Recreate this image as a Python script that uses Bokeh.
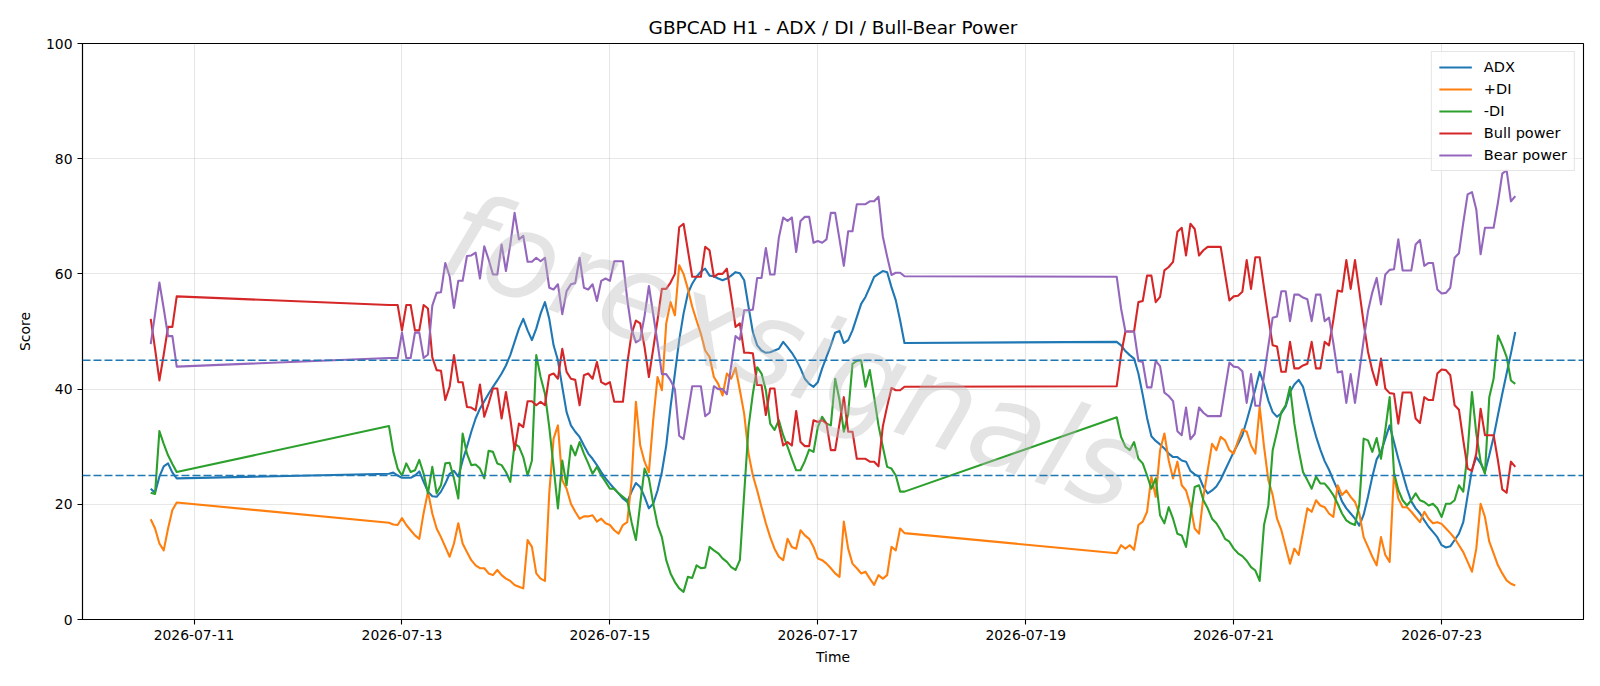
import pandas as pd
from bokeh.plotting import figure
from bokeh.models import Range1d, FixedTicker, DatetimeTickFormatter, Span, Label
from bokeh.embed import file_html
from bokeh.resources import INLINE

FONT = "DejaVu Sans"

# Hourly bars, three trading sessions (weekend gaps are bridged by the lines)
segment_starts = ["2026-07-10 14:00", "2026-07-12 21:00", "2026-07-19 21:00"]
segment_hours = [7, 120, 93]
times = []
for start, n in zip(segment_starts, segment_hours):
    times.extend(pd.date_range(start, periods=n, freq="h").to_pydatetime())

adx = [
    22.7, 22.0, 24.8, 26.6, 27.1, 25.5, 24.5,
    25.3, 25.5, 25.0, 24.6, 24.6, 24.6, 25.0, 25.7, 23.9, 22.2,
    21.4, 21.3, 22.2, 23.6, 25.3, 25.8, 24.8, 27.6, 30.0, 32.6,
    34.9, 36.6, 37.9, 39.2, 40.4, 41.5, 42.7, 44.1, 45.9, 48.2,
    50.5, 52.2, 50.2, 48.5, 50.5, 53.1, 55.1, 52.2, 47.6, 45.0,
    40.4, 36.0, 33.7, 32.6, 31.7, 30.2, 28.8, 27.9, 26.8, 25.6,
    24.5, 23.6, 22.7, 21.9, 21.0, 20.4, 22.2, 23.7, 23.0, 21.3,
    19.3, 20.1, 22.4, 25.6, 30.2, 36.9, 42.7, 48.5, 53.1, 56.6,
    58.3, 59.5, 60.4, 60.9, 59.7, 59.6, 59.2, 58.9, 59.2, 59.7,
    60.3, 60.1, 58.9, 54.3, 49.9, 47.6, 46.7, 46.3, 46.4, 46.7,
    47.0, 48.2, 47.3, 46.3, 45.1, 43.6, 41.8, 40.9, 40.4, 41.2,
    43.6, 45.6, 47.6, 49.8, 50.1, 48.0, 48.5, 50.2, 52.5, 54.8,
    56.0, 57.7, 59.5, 60.0, 60.5, 60.3, 57.7, 55.4, 51.9, 48.0,
    48.2, 47.6, 46.6, 45.9, 45.3, 42.7, 39.0, 35.0, 31.8, 31.0,
    30.4, 29.7, 28.8, 28.2, 28.2, 27.6, 27.4, 25.8, 25.2, 24.8,
    23.0, 21.9, 22.4, 23.1, 24.3, 25.9, 27.5, 29.1, 30.5, 32.0,
    34.5, 37.2, 40.0, 43.0, 40.8, 38.0, 36.0, 35.2, 35.8, 37.0,
    39.5, 40.8, 41.6, 40.4, 37.5, 34.5, 31.8, 29.5, 27.5, 26.0,
    24.2, 22.5, 20.5, 19.3, 18.4, 17.5, 16.3, 18.2, 21.3, 24.8,
    27.8, 29.1, 31.4, 33.7, 30.8, 27.9, 25.3, 22.7, 20.5, 19.3,
    18.4, 17.2, 16.1, 15.2, 14.3, 12.9, 12.5, 12.7, 13.8, 14.9,
    16.9, 21.5, 26.0, 28.2, 27.1, 25.6, 28.5, 31.7, 35.5, 39.2,
    42.7, 46.2, 49.9,
]

plus_di = [
    17.4, 15.8, 13.2, 12.0, 15.8, 19.0, 20.3,
    16.8, 16.5, 16.4, 17.6, 16.4, 15.5, 14.6, 14.0, 18.5, 22.2,
    18.4, 15.8, 14.3, 12.6, 10.9, 13.2, 16.7, 13.2, 11.7, 10.3,
    9.4, 8.9, 8.9, 8.0, 7.7, 8.6, 7.7, 7.1, 6.7, 6.0,
    5.7, 5.4, 13.8, 12.6, 8.0, 7.1, 6.7, 21.9, 31.4, 33.7,
    24.2, 22.7, 20.1, 18.7, 17.5, 17.9, 17.9, 18.1, 17.0, 17.5,
    16.7, 16.4, 15.5, 14.9, 16.4, 16.9, 24.0, 37.8, 30.2, 27.4,
    25.6, 34.6, 42.1, 39.8, 51.4, 55.1, 52.8, 61.5, 60.0, 57.4,
    54.3, 51.9, 49.6, 46.7, 45.6, 42.1, 40.9, 38.9, 42.7, 41.8,
    43.7, 39.8, 35.7, 28.8, 25.0, 22.4, 19.5, 16.7, 14.3, 12.3,
    10.9, 10.3, 14.0, 12.6, 12.3, 15.5, 14.6, 14.0, 12.6, 10.6,
    10.3, 9.7, 8.9, 8.0, 7.4, 17.0, 12.3, 9.7, 8.9, 8.0,
    8.3, 7.1, 6.0, 7.7, 7.1, 7.7, 12.6, 12.0, 15.8, 15.0,
    11.5, 12.9, 12.3, 12.9, 12.1, 16.4, 17.0, 18.7, 24.8, 21.3,
    29.4, 32.3, 27.6, 24.5, 27.4, 23.3, 22.4, 19.8, 15.8, 14.9,
    21.3, 25.9, 30.5, 29.4, 31.7, 31.1, 29.4, 28.8, 31.0, 33.0,
    32.6, 30.2, 28.8, 36.9, 30.0, 24.2, 21.6, 17.5, 15.5, 12.6,
    9.7, 12.3, 11.2, 15.2, 19.3, 18.7, 20.7, 19.8, 19.5, 18.4,
    17.8, 23.3, 21.6, 22.4, 21.3, 20.4, 18.4, 14.3, 12.6, 10.9,
    9.4, 14.3, 11.2, 10.0, 25.3, 21.0, 19.5, 19.5, 18.7, 17.8,
    16.9, 18.7, 17.5, 16.7, 16.9, 16.6, 15.8, 15.0, 14.1, 12.9,
    11.7, 10.0, 8.3, 12.3, 20.1, 17.8, 13.5, 11.5, 9.4, 8.0,
    6.8, 6.2, 5.9,
]

minus_di = [
    22.0, 21.8, 32.7, 30.5, 28.5, 27.0, 25.6,
    33.6, 29.1, 26.2, 25.0, 27.1, 25.6, 25.9, 27.7, 25.3, 21.9,
    26.5, 21.9, 23.3, 27.1, 27.2, 24.5, 21.0, 32.3, 28.8, 26.8,
    26.9, 26.2, 24.5, 29.3, 29.1, 27.1, 26.8, 25.6, 23.9, 30.5,
    30.0, 28.2, 25.0, 27.6, 45.9, 42.1, 39.2, 33.4, 26.5, 19.3,
    27.6, 23.3, 30.2, 28.5, 30.8, 28.8, 27.1, 25.3, 26.5, 25.0,
    23.9, 22.7, 22.7, 21.9, 21.3, 20.7, 16.9, 13.8, 20.1, 26.2,
    24.5, 20.1, 16.4, 14.3, 10.3, 8.0, 6.5, 5.4, 4.8, 7.4,
    7.2, 9.4, 8.9, 9.0, 12.6, 12.0, 11.5, 10.6, 10.0, 9.1,
    8.6, 10.3, 21.9, 33.4, 39.2, 43.8, 42.7, 39.8, 34.0, 32.9,
    34.6, 32.0, 30.0, 27.9, 25.9, 25.9, 27.5, 29.5, 29.1, 33.4,
    35.2, 34.0, 33.7, 41.8, 38.1, 32.6, 35.7, 44.4, 44.9, 45.0,
    40.4, 43.3, 38.6, 33.7, 30.0, 26.5, 26.2, 25.0, 22.2, 22.2,
    35.1, 31.7, 30.0, 29.4, 30.8, 27.9, 27.1, 25.0, 22.7, 24.5,
    18.1, 16.7, 19.5, 17.5, 14.9, 14.6, 12.6, 17.8, 23.0, 23.3,
    20.7, 19.3, 17.5, 16.7, 15.5, 14.0, 13.5, 12.3, 11.5, 11.0,
    10.2, 9.1, 8.5, 6.7, 16.4, 19.8, 29.4, 32.6, 36.0, 37.2,
    40.4, 34.0, 29.4, 25.6, 24.2, 22.7, 24.8, 23.6, 23.6, 22.7,
    21.6, 20.1, 18.4, 17.2, 16.7, 16.4, 20.0, 31.4, 31.1, 29.1,
    31.5, 27.9, 32.9, 38.6, 25.5, 22.5, 20.7, 19.8, 20.7, 21.9,
    20.7, 20.4, 19.8, 20.1, 19.3, 17.8, 20.1, 20.1, 20.7, 23.3,
    22.2, 29.1, 39.5, 32.3, 27.4, 25.3, 38.6, 41.8, 49.3, 47.6,
    45.6, 41.5, 40.9,
]

bull_power = [
    52.2, 47.0, 41.5, 46.0, 50.8, 50.8, 56.1,
    54.6, 54.6, 54.6, 50.2, 54.6, 54.6, 50.2, 50.2, 54.6, 54.0,
    45.5, 43.3, 43.2, 38.1, 40.4, 45.9, 41.2, 41.2, 36.9, 36.8,
    36.3, 40.8, 35.2, 37.5, 40.1, 40.1, 34.9, 39.5, 34.9, 29.4,
    34.0, 33.4, 37.9, 37.9, 37.2, 37.8, 37.2, 42.4, 42.7, 41.8,
    47.0, 43.0, 41.8, 41.6, 37.2, 42.4, 42.7, 41.8, 44.7, 41.2,
    40.8, 41.2, 37.8, 37.8, 37.8, 44.4, 49.6, 51.9, 51.4, 47.3,
    42.1, 47.0, 52.0, 57.4, 57.4, 58.5, 60.0, 68.1, 68.7, 64.1,
    59.5, 59.5, 59.5, 64.7, 64.1, 59.5, 60.0, 60.0, 60.9, 56.0,
    50.8, 51.4, 46.3, 46.3, 46.2, 40.7, 40.7, 35.5, 40.1, 40.1,
    33.7, 30.2, 30.8, 30.2, 36.2, 30.8, 30.1, 30.1, 34.6, 34.3,
    34.6, 34.0, 29.4, 29.4, 34.0, 38.6, 32.6, 32.6, 27.9, 27.9,
    27.9, 27.4, 27.4, 26.6, 33.5, 37.0, 40.2, 39.8, 39.8, 40.4,
    40.5, 46.0, 50.0, 50.0, 50.0, 55.1, 55.3, 59.7, 59.7, 55.1,
    56.0, 60.6, 61.2, 62.1, 67.3, 68.0, 63.2, 68.7, 67.8, 63.2,
    64.1, 64.7, 64.7, 64.7, 64.7, 60.0, 55.4, 56.1, 56.2, 56.9,
    62.4, 57.4, 62.9, 62.9, 57.6, 52.5, 47.6, 47.4, 43.0, 43.0,
    48.2, 43.6, 43.6, 44.1, 44.4, 48.2, 43.6, 43.6, 48.2, 47.6,
    52.0, 57.1, 56.9, 62.4, 57.4, 62.4, 57.0, 51.5, 46.5, 43.2,
    40.7, 45.3, 40.1, 39.3, 39.2, 34.0, 39.4, 39.4, 39.4, 34.9,
    34.1, 38.6, 38.1, 38.1, 42.7, 43.4, 43.3, 42.4, 37.2, 36.4,
    31.1, 26.2, 25.8, 28.8, 36.6, 32.0, 32.0, 32.0, 27.6, 22.6,
    22.0, 27.4, 26.5,
]

bear_power = [
    47.8, 53.0, 58.5, 54.0, 49.2, 49.2, 43.9,
    45.4, 45.4, 45.4, 49.8, 45.4, 45.4, 49.8, 49.8, 45.4, 46.0,
    54.5, 56.7, 56.8, 61.9, 59.6, 54.1, 58.8, 58.8, 63.1, 63.2,
    63.7, 59.2, 64.8, 62.5, 59.9, 59.9, 65.1, 60.5, 65.1, 70.6,
    66.0, 66.6, 62.1, 62.1, 62.8, 62.2, 62.8, 57.6, 57.3, 58.2,
    53.0, 57.0, 58.2, 58.4, 62.8, 57.6, 57.3, 58.2, 55.3, 58.8,
    59.2, 58.8, 62.2, 62.2, 62.2, 55.6, 50.4, 48.1, 48.6, 52.7,
    57.9, 53.0, 48.0, 42.6, 42.6, 41.5, 40.0, 31.9, 31.3, 35.9,
    40.5, 40.5, 40.5, 35.3, 35.9, 40.5, 40.0, 40.0, 39.1, 44.0,
    49.2, 48.6, 53.7, 53.7, 53.8, 59.3, 59.3, 64.5, 59.9, 59.9,
    66.3, 69.8, 69.2, 69.8, 63.8, 69.2, 69.9, 69.9, 65.4, 65.7,
    65.4, 66.0, 70.6, 70.6, 66.0, 61.4, 67.4, 67.4, 72.1, 72.1,
    72.1, 72.6, 72.6, 73.4, 66.5, 63.0, 59.8, 60.2, 60.2, 59.6,
    59.5, 54.0, 50.0, 50.0, 50.0, 44.9, 44.7, 40.3, 40.3, 44.9,
    44.0, 39.4, 38.8, 37.9, 32.7, 32.0, 36.8, 31.3, 32.2, 36.8,
    35.9, 35.3, 35.3, 35.3, 35.3, 40.0, 44.6, 43.9, 43.8, 43.1,
    37.6, 42.6, 37.1, 37.1, 42.4, 47.5, 52.4, 52.6, 57.0, 57.0,
    51.8, 56.4, 56.4, 55.9, 55.6, 51.8, 56.4, 56.4, 51.8, 52.4,
    48.0, 42.9, 43.1, 37.6, 42.6, 37.6, 43.0, 48.5, 53.5, 56.8,
    59.3, 54.7, 59.9, 60.7, 60.8, 66.0, 60.6, 60.6, 60.6, 65.1,
    65.9, 61.4, 61.9, 61.9, 57.3, 56.6, 56.7, 57.6, 62.8, 63.6,
    68.9, 73.8, 74.2, 71.2, 63.4, 68.0, 68.0, 68.0, 72.4, 77.4,
    78.0, 72.6, 73.5,
]

series = [
    ("ADX", adx, "#1f77b4"),
    ("+DI", plus_di, "#ff7f0e"),
    ("-DI", minus_di, "#2ca02c"),
    ("Bull power", bull_power, "#d62728"),
    ("Bear power", bear_power, "#9467bd"),
]

threshold_levels = [25, 45]
y_ticks = [0, 20, 40, 60, 80, 100]
x_tick_dates = ["2026-07-11", "2026-07-13", "2026-07-15", "2026-07-17",
                "2026-07-19", "2026-07-21", "2026-07-23"]

x_start = pd.Timestamp("2026-07-09 22:15").to_pydatetime()
x_end = pd.Timestamp("2026-07-24 08:45").to_pydatetime()

p = figure(
    width=1600, height=686,
    x_axis_type="datetime",
    x_range=Range1d(x_start, x_end),
    y_range=Range1d(0, 100),
    output_backend="svg",
    toolbar_location=None,
    title="GBPCAD H1 - ADX / DI / Bull-Bear Power",
    min_border_left=82, min_border_right=17,
    min_border_top=43, min_border_bottom=67,
)
p.background_fill_color = "white"
p.border_fill_color = "white"
p.outline_line_color = "black"
p.outline_line_width = 1.1

p.title.align = "center"
p.title.text_font = FONT
p.title.text_font_size = "18.5px"
p.title.text_font_style = "normal"
p.title.text_color = "black"
p.title.standoff = 12

# Watermark
p.add_layout(Label(
    x=pd.Timestamp("2026-07-16 18:00").to_pydatetime(), y=46.5,
    text="forexsignals", angle=-0.34,
    text_font=FONT, text_font_style="italic", text_font_size="120px",
    text_color="#b8b8b8", text_alpha=0.38,
    text_align="center", text_baseline="middle",
))

for level in threshold_levels:
    p.add_layout(Span(location=level, dimension="width",
                      line_color="#1f77b4", line_width=1.6, line_dash="8 3"))

for name, vals, color in series:
    p.line(times, vals, line_color=color, line_width=2.1,
           line_join="round", legend_label=name)

# Axes
tick_ms = [pd.Timestamp(d).value // 10**6 for d in x_tick_dates]
p.xaxis.ticker = FixedTicker(ticks=tick_ms)
fmt = "%Y-%m-%d"
p.xaxis.formatter = DatetimeTickFormatter(
    days=fmt, months=fmt, years=fmt, hours=fmt, hourmin=fmt,
    minutes=fmt, minsec=fmt, seconds=fmt, milliseconds=fmt)
p.yaxis.ticker = FixedTicker(ticks=y_ticks)
p.xaxis.axis_label = "Time"
p.yaxis.axis_label = "Score"

for ax in (p.xaxis, p.yaxis):
    ax.axis_line_color = "black"
    ax.axis_line_width = 1.1
    ax.major_tick_line_color = "black"
    ax.major_tick_line_width = 1.1
    ax.major_tick_out = 5
    ax.major_tick_in = 0
    ax.minor_tick_line_color = None
    ax.major_label_text_font = FONT
    ax.major_label_text_font_size = "13.9px"
    ax.major_label_text_color = "black"
    ax.axis_label_text_font = FONT
    ax.axis_label_text_font_size = "13.9px"
    ax.axis_label_text_font_style = "normal"
    ax.axis_label_text_color = "black"
p.xaxis.major_label_standoff = 5
p.yaxis.major_label_standoff = 5
p.xaxis.axis_label_standoff = 6
p.yaxis.axis_label_standoff = 10

p.xgrid.ticker = FixedTicker(ticks=tick_ms)
for g in (p.xgrid, p.ygrid):
    g.grid_line_color = "#b0b0b0"
    g.grid_line_alpha = 0.3
    g.grid_line_width = 1.1

leg = p.legend[0]
leg.location = "top_right"
leg.margin = 8
leg.padding = 7
leg.spacing = 6
leg.label_height = 16
leg.glyph_height = 16
leg.glyph_width = 33
leg.label_standoff = 12
leg.label_text_font = FONT
leg.label_text_font_size = "14.5px"
leg.label_text_color = "black"
leg.border_line_color = "#cccccc"
leg.border_line_width = 1
leg.background_fill_alpha = 0.8

open("out.html", "w").write(file_html(p, INLINE))
